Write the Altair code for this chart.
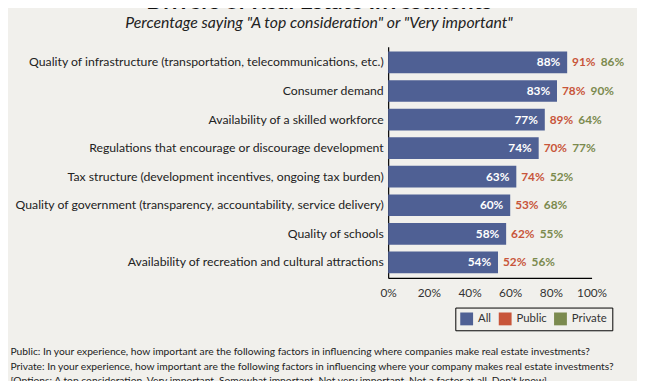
import altair as alt
import pandas as pd

categories = [
    "Quality of infrastructure (transportation, telecommunications, etc.)",
    "Consumer demand",
    "Availability of a skilled workforce",
    "Regulations that encourage or discourage development",
    "Tax structure (development incentives, ongoing tax burden)",
    "Quality of government (transparency, accountability, service delivery)",
    "Quality of schools",
    "Availability of recreation and cultural attractions",
]
all_vals = [88, 83, 77, 74, 63, 60, 58, 54]
public_vals = [91, 78, 89, 70, 74, 53, 62, 52]
private_vals = [86, 90, 64, 77, 52, 68, 55, 56]
series_names = ["All", "Public", "Private"]
series_colors = ["#4f6094", "#c8553a", "#7b8a4e"]
x_ticks = [0, 20, 40, 60, 80, 100]
footnote = [
    "Public: In your experience, how important are the following factors in influencing where companies make real estate investments?",
    "Private: In your experience, how important are the following factors in influencing where your company makes real estate investments?",
    "[Options: A top consideration, Very important, Somewhat important, Not very important, Not a factor at all, Don't know]",
]

df = pd.DataFrame({
    "factor": categories,
    "All": all_vals,
    "Public": public_vals,
    "Private": private_vals,
})
df["all_lbl"] = [f"{v}%" for v in all_vals]
df["pub_lbl"] = [f"{v}%" for v in public_vals]
df["pri_lbl"] = [f"{v}%" for v in private_vals]
df["s_all"] = "All"
df["s_pub"] = "Public"
df["s_pri"] = "Private"

FONT = "Lato"

color_scale = alt.Scale(domain=series_names, range=series_colors)

y_enc = alt.Y(
    "factor:N", sort=categories,
    scale=alt.Scale(paddingInner=0.25, paddingOuter=0.17),
    axis=alt.Axis(title=None, ticks=False, domainColor="#000", domainWidth=1.2,
                  labelFontSize=12.4, labelColor="#222", labelFont=FONT,
                  labelPadding=5, labelLimit=420),
)
x_enc = alt.X(
    "All:Q", scale=alt.Scale(domain=[0, 100], nice=False),
    axis=alt.Axis(values=x_ticks, labelExpr="datum.value + '%'", grid=False,
                  ticks=False, domainColor="#000", domainWidth=1.2,
                  labelFontSize=12, labelColor="#333", labelFont=FONT,
                  labelPadding=10, labelOverlap=False, labelFlush=False,
                  title=footnote, titleFont=FONT, titleFontSize=10.4,
                  titleFontWeight="normal", titleColor="#222",
                  titleX=-383, titleY=70, titleAlign="left", titleAnchor="start",
                  titleBaseline="top", titleLineHeight=14.5),
)

bars = alt.Chart(df).mark_bar(size=22).encode(
    y=y_enc, x=x_enc,
    color=alt.Color("s_all:N", scale=color_scale, title=None,
                    legend=alt.Legend(orient="none", legendX=68, legendY=264,
                                      direction="horizontal", symbolType="square",
                                      symbolSize=169, symbolStrokeWidth=0,
                                      labelFontSize=11.5, labelFont=FONT, labelColor="#333",
                                      labelOffset=5,
                                      strokeColor="#000", padding=5, columnPadding=7,
                                      values=series_names)),
)

all_txt = alt.Chart(df).mark_text(align="right", baseline="middle", dx=-7,
                                  fontSize=12, fontWeight="bold", font=FONT,
                                  color="white").encode(
    y=alt.Y("factor:N", sort=categories), x="All:Q", text="all_lbl:N")

pub_txt = alt.Chart(df).mark_text(align="left", baseline="middle", dx=5,
                                  fontSize=12, fontWeight="bold", font=FONT).encode(
    y=alt.Y("factor:N", sort=categories), x="All:Q", text="pub_lbl:N",
    color=alt.Color("s_pub:N", scale=color_scale, legend=None))

pri_txt = alt.Chart(df).mark_text(align="left", baseline="middle", dx=34,
                                  fontSize=12, fontWeight="bold", font=FONT).encode(
    y=alt.Y("factor:N", sort=categories), x="All:Q", text="pri_lbl:N",
    color=alt.Color("s_pri:N", scale=color_scale, legend=None))

chart = alt.layer(bars, all_txt, pub_txt, pri_txt).properties(
    width=206, height=234,
    autosize=alt.AutoSizeParams(type="none"),
    padding={"left": 385, "top": 37, "right": 46, "bottom": 102},
    background="#f1f0ec",
    title=alt.TitleParams(
        text="Drivers of Real Estate Investments",
        subtitle='Percentage saying "A top consideration" or "Very important"',
        font=FONT, fontSize=23, fontWeight="bold", color="#111",
        subtitleFont=FONT, subtitleFontSize=16, subtitleFontStyle="italic",
        subtitleColor="#222", anchor="middle", frame="group", dx=-173,
        offset=16, subtitlePadding=1,
    ),
).configure_view(stroke=None)

chart.save("out.html", embed_options={"renderer": "svg", "actions": False})
